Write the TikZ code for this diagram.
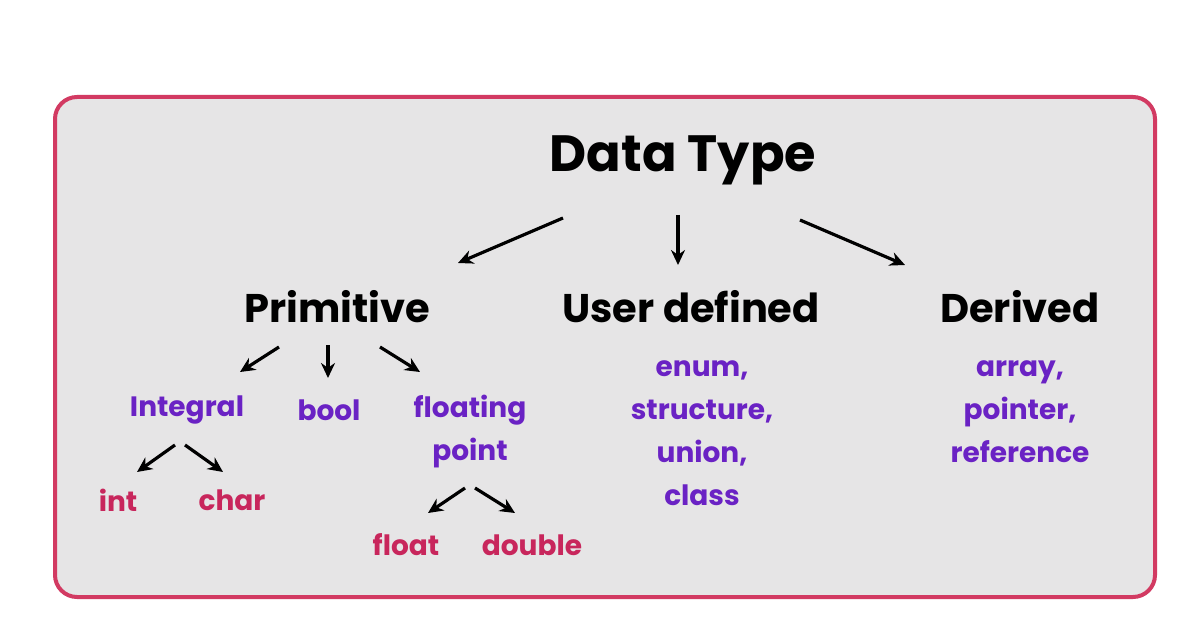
\documentclass[tikz,border=0pt]{standalone}
\usepackage{fontspec}
\setmainfont{Poppins}
\usetikzlibrary{arrows.meta}
\definecolor{frame}{HTML}{D23A62}
\definecolor{panel}{HTML}{E6E5E6}
\definecolor{leaf}{HTML}{6A22C4}
\definecolor{base}{HTML}{C8265C}
\tikzset{
  head/.style={font=\fontsize{51}{56}\selectfont\bfseries, inner sep=0pt},
  kind/.style={font=\fontsize{40}{44}\selectfont\bfseries, inner sep=0pt},
  sub/.style={font=\fontsize{28}{43}\selectfont\bfseries, text=leaf, align=center, inner sep=0pt},
  bot/.style={font=\fontsize{28}{30}\selectfont\bfseries, text=base, inner sep=0pt},
  arr/.style={-{Stealth[length=15pt,width=14pt]}, line width=3.2pt}
}
\begin{document}
\begin{tikzpicture}[x=1pt,y=-1pt]
  \useasboundingbox (0,0) rectangle (1196,628);
  \fill[white] (0,0) rectangle (1196,628);
  \draw[frame, fill=panel, line width=4pt, rounded corners=22pt] (55,97) rectangle (1155,597);
  % top level
  \node[head] (dt) at (683,160) {Data Type};
  \node[kind] (prim) at (337,307) {Primitive};
  \node[kind] (user) at (691,307) {User defined};
  \node[kind] (der) at (1020,307) {Derived};
  % second level
  \node[sub] (integral) at (187,410) {Integral};
  \node[sub] (bool) at (329,410) {bool};
  \node[sub] (flt) at (470,432) {floating\\point};
  \node[sub] (ulist) at (702,433) {enum,\\structure,\\union,\\class};
  \node[sub] (dlist) at (1020,412) {array,\\pointer,\\reference};
  % leaves
  \node[bot] (int) at (118,500) {int};
  \node[bot] (char) at (232,500) {char};
  \node[bot] (float) at (406,545) {float};
  \node[bot] (double) at (532,545) {double};
  % arrows
  \draw[arr] ([xshift=-120pt,yshift=-58pt]dt.center) -- ([xshift=121pt,yshift=44pt]prim.center);
  \draw[arr] ([xshift=-5pt,yshift=-55pt]dt.center) -- ([xshift=-13pt,yshift=42pt]user.center);
  \draw[arr] ([xshift=117pt,yshift=-60pt]dt.center) -- ([xshift=-115pt,yshift=42pt]der.center);
  \draw[arr] ([xshift=-58pt,yshift=-40pt]prim.center) -- ([xshift=53pt,yshift=38pt]integral.center);
  \draw[arr] ([xshift=-9pt,yshift=-38pt]prim.center) -- ([xshift=-1pt,yshift=32pt]bool.center);
  \draw[arr] ([xshift=43pt,yshift=-40pt]prim.center) -- ([xshift=-50pt,yshift=60pt]flt.center);
  \draw[arr] ([xshift=-12pt,yshift=-35pt]integral.center) -- ([xshift=19pt,yshift=28pt]int.center);
  \draw[arr] ([xshift=-2pt,yshift=-35pt]integral.center) -- ([xshift=-9pt,yshift=28pt]char.center);
  \draw[arr] ([xshift=-5pt,yshift=-56pt]flt.center) -- ([xshift=22pt,yshift=32pt]float.center);
  \draw[arr] ([xshift=5pt,yshift=-56pt]flt.center) -- ([xshift=-17pt,yshift=32pt]double.center);
\end{tikzpicture}
\end{document}
